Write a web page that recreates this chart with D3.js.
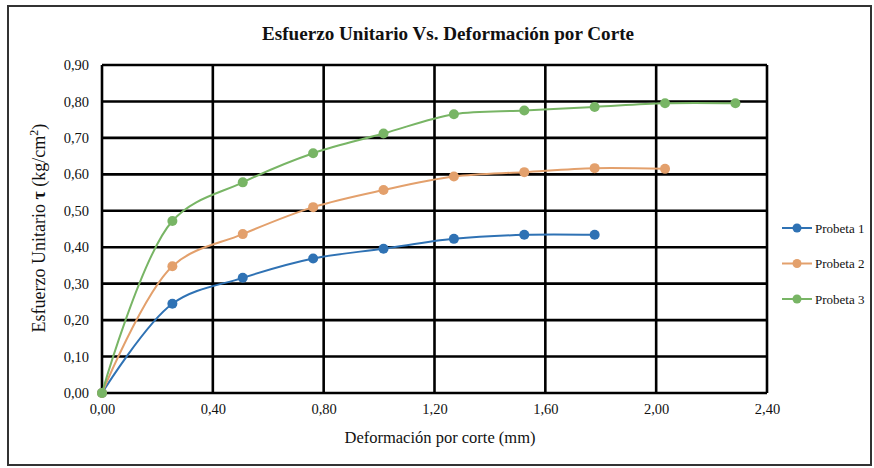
<!DOCTYPE html>
<html>
<head>
<meta charset="utf-8">
<script src="https://cdn.jsdelivr.net/npm/d3@7"></script>
<style>
  html, body { margin: 0; padding: 0; background: #fff; }
  svg { display: block; }
  text { font-family: "Liberation Serif", "DejaVu Serif", serif; fill: #111; }
</style>
</head>
<body>
<svg id="chart" width="874" height="468"></svg>
<script>
// Shear test: unit stress vs. shear deformation for three specimens
const deformation = [0, 0.254, 0.508, 0.762, 1.016, 1.270, 1.524, 1.778, 2.032, 2.286];
const probeta1 = [0, 0.245, 0.316, 0.369, 0.396, 0.423, 0.434, 0.434];
const probeta2 = [0, 0.348, 0.436, 0.510, 0.557, 0.594, 0.606, 0.617, 0.615];
const probeta3 = [0, 0.472, 0.578, 0.658, 0.712, 0.765, 0.775, 0.785, 0.795, 0.795];
const seriesNames = ["Probeta 1", "Probeta 2", "Probeta 3"];
const seriesColors = ["#2f72b4", "#e3a06c", "#78b565"];
const xTicks = [0, 0.4, 0.8, 1.2, 1.6, 2.0, 2.4];
const yTicks = [0, 0.1, 0.2, 0.3, 0.4, 0.5, 0.6, 0.7, 0.8, 0.9];

const series = [probeta1, probeta2, probeta3].map((vals, i) => ({
  name: seriesNames[i],
  color: seriesColors[i],
  points: vals.map((v, j) => ({ x: deformation[j], y: v }))
}));

const svg = d3.select("#chart");
const fmt = d => d.toFixed(2).replace(".", ",");

// outer frame
svg.append("rect")
  .attr("x", 8).attr("y", 6).attr("width", 863).attr("height", 459)
  .attr("fill", "none").attr("stroke", "#333").attr("stroke-width", 2);

const plot = { left: 102, right: 767, top: 65, bottom: 393 };
const x = d3.scaleLinear().domain([0, 2.4]).range([plot.left, plot.right]);
const y = d3.scaleLinear().domain([0, 0.9]).range([plot.bottom, plot.top]);

// grid
const grid = svg.append("g");
grid.selectAll("line.h").data(yTicks).join("line")
  .attr("x1", plot.left).attr("x2", plot.right)
  .attr("y1", d => y(d)).attr("y2", d => y(d))
  .attr("stroke", "#000").attr("stroke-width", 2.6);
grid.selectAll("line.v").data(xTicks).join("line")
  .attr("y1", plot.top).attr("y2", plot.bottom)
  .attr("x1", d => x(d)).attr("x2", d => x(d))
  .attr("stroke", "#000").attr("stroke-width", 2.6);

// axes (labels only; grid already draws the lines)
const xAxis = svg.append("g")
  .attr("transform", `translate(0,${plot.bottom})`)
  .call(d3.axisBottom(x).tickValues(xTicks).tickFormat(fmt).tickSize(0).tickPadding(11));
xAxis.select(".domain").remove();
xAxis.selectAll("text").attr("font-size", 14.5).attr("font-family", "Liberation Serif");

const yAxis = svg.append("g")
  .attr("transform", `translate(${plot.left},0)`)
  .call(d3.axisLeft(y).tickValues(yTicks).tickFormat(fmt).tickSize(0).tickPadding(13));
yAxis.select(".domain").remove();
yAxis.selectAll("text").attr("font-size", 14.5).attr("font-family", "Liberation Serif");

// series
const line = d3.line().x(d => x(d.x)).y(d => y(d.y)).curve(d3.curveCatmullRom.alpha(0.5));
const sg = svg.append("g").selectAll("g").data(series).join("g");
sg.append("path")
  .attr("d", d => line(d.points))
  .attr("fill", "none").attr("stroke", d => d.color).attr("stroke-width", 2);
sg.selectAll("circle").data(d => d.points.map(p => ({ ...p, color: d.color }))).join("circle")
  .attr("cx", d => x(d.x)).attr("cy", d => y(d.y)).attr("r", 5)
  .attr("fill", d => d.color);

// title
svg.append("text")
  .attr("x", 448).attr("y", 40).attr("text-anchor", "middle")
  .attr("font-size", 19).attr("font-weight", "bold")
  .attr("textLength", 372).attr("lengthAdjust", "spacingAndGlyphs")
  .text("Esfuerzo Unitario Vs. Deformación por Corte");

// axis titles
svg.append("text")
  .attr("x", 440).attr("y", 443).attr("text-anchor", "middle")
  .attr("font-size", 16.5)
  .text("Deformación por corte (mm)");

const yt = svg.append("text")
  .attr("transform", "translate(45,228) rotate(-90)")
  .attr("text-anchor", "middle").attr("font-size", 18);
yt.append("tspan").text("Esfuerzo Unitario ");
yt.append("tspan").attr("font-weight", "bold").text("τ");
yt.append("tspan").text(" (kg/cm");
yt.append("tspan").attr("font-size", 12).attr("dy", -7).text("2");
yt.append("tspan").attr("dy", 7).text(")");

// legend
const legend = svg.append("g").selectAll("g").data(series).join("g")
  .attr("transform", (d, i) => `translate(782,${228 + i * 35.5})`);
legend.append("line").attr("x1", 0).attr("x2", 30).attr("y1", 0).attr("y2", 0)
  .attr("stroke", d => d.color).attr("stroke-width", 2);
legend.append("circle").attr("cx", 15).attr("cy", 0).attr("r", 4.5).attr("fill", d => d.color);
legend.append("text").attr("x", 33).attr("y", 4.5).attr("font-size", 13).text(d => d.name);
</script>
</body>
</html>
